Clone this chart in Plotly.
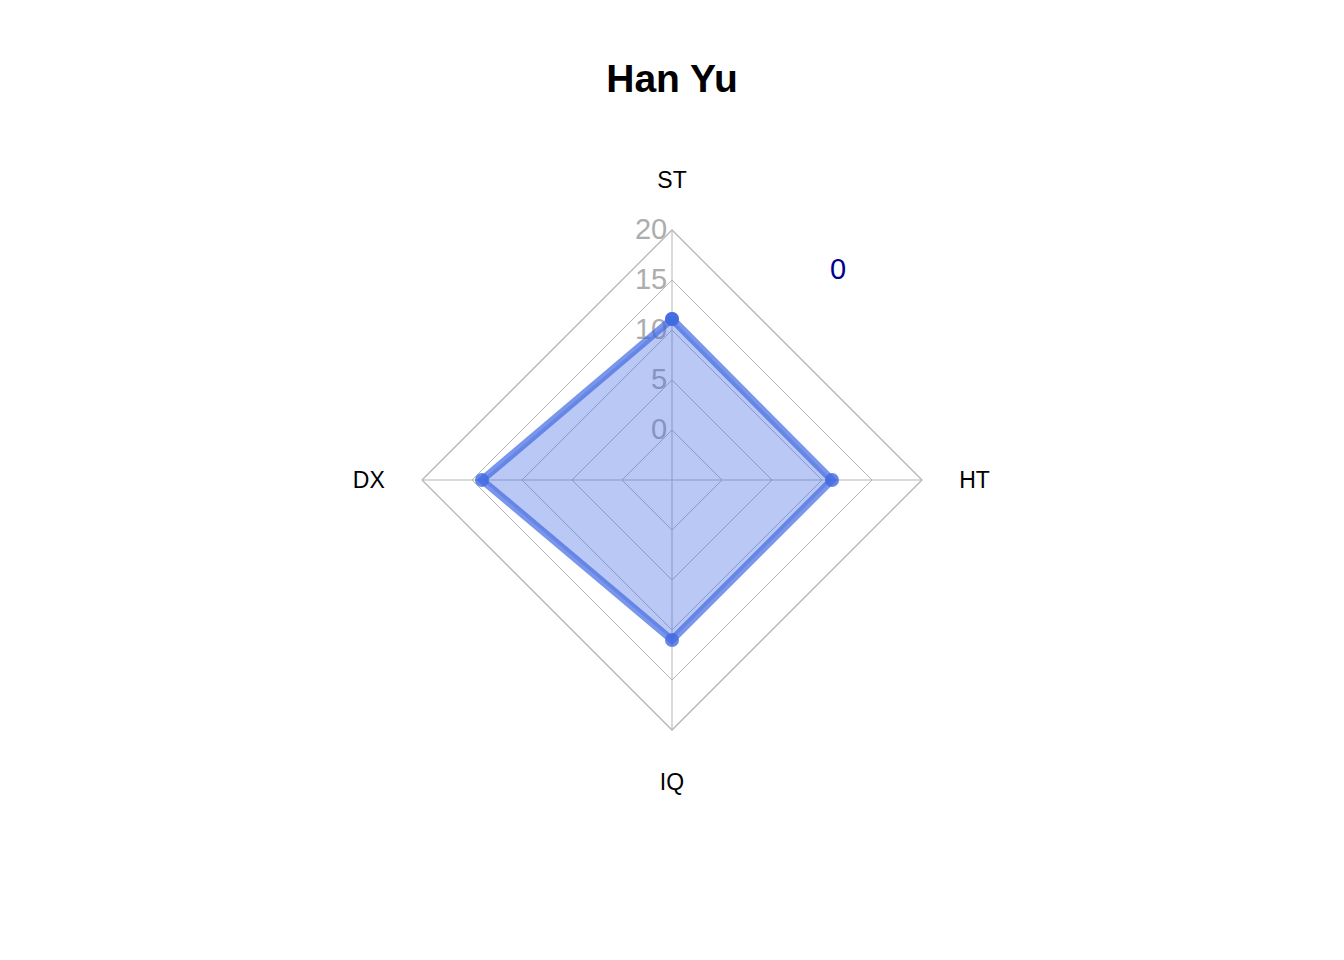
import plotly.graph_objects as go

categories = ["ST", "HT", "IQ", "DX"]
values = [11.1, 11, 11, 14]
radial_ticks = [0, 5, 10, 15, 20]
title_text = "Han Yu"
note_text = "0"

theta = categories + categories[:1]
r = values + values[:1]

fig = go.Figure()
fig.add_trace(go.Scatterpolar(
    r=r, theta=theta, mode="lines+markers",
    fill="toself", fillcolor="rgba(65,105,225,0.37)",
    line=dict(color="rgba(65,105,225,0.7)", width=7.5),
    marker=dict(color="rgba(65,105,225,0.8)", size=14),
    showlegend=False, hoverinfo="skip",
))

L, R, T, B = 100, 100, 230, 230
W, H = 1344, 960
pw, ph = W - L - R, H - T - B

fig.update_layout(
    width=W, height=H,
    margin=dict(l=L, r=R, t=T, b=B),
    paper_bgcolor="white", plot_bgcolor="white",
    font=dict(family="Liberation Sans, Arial", color="black"),
    title=dict(text="<b>" + title_text + "</b>", x=0.5, xanchor="center",
               y=1 - 78 / 960, yanchor="middle",
               font=dict(size=39, color="black", family="Liberation Sans, Arial")),
    polar=dict(
        bgcolor="white",
        gridshape="linear",
        domain=dict(x=[0, 1], y=[0, 1]),
        radialaxis=dict(
            range=[-5, 20], tickvals=radial_ticks, ticktext=[str(v) for v in radial_ticks],
            angle=90, tickangle=90, side="counterclockwise",
            showline=False, ticks="", gridcolor="#b5b5b5", gridwidth=1.3,
            tickfont=dict(size=29, color="#adadad"), layer="below traces",
        ),
        angularaxis=dict(
            direction="clockwise", rotation=90, categoryorder="array", categoryarray=categories,
            showline=True, linecolor="#b5b5b5", linewidth=1.3,
            gridcolor="#b5b5b5", gridwidth=1.3,
            ticks="outside", ticklen=32, tickcolor="rgba(0,0,0,0)",
            tickfont=dict(size=23, color="black"), layer="below traces",
        ),
    ),
    annotations=[dict(text=note_text, x=(838 - L) / pw, y=(H - B - 269) / ph,
                      xref="paper", yref="paper", xanchor="center", yanchor="middle",
                      showarrow=False, font=dict(size=29, color="#00008b"))],
)

fig.write_html("out.html")
